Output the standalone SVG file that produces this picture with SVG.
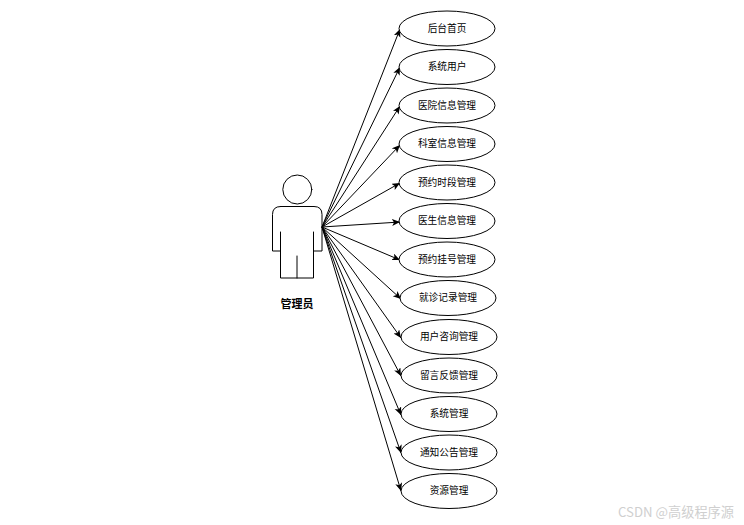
<svg xmlns="http://www.w3.org/2000/svg" width="744" height="525" viewBox="0 0 744 525">
<style>
text{font-family:"Noto Sans CJK SC","Liberation Sans",sans-serif;font-size:9.7px;fill:#000;text-anchor:middle;dominant-baseline:central}
.n ellipse{fill:#fff;stroke:#000;stroke-width:1}
.a{fill:none;stroke:#000;stroke-width:1;stroke-linecap:round;stroke-linejoin:round}
#connectors line{stroke:#000;stroke-width:1;marker-end:url(#h)}
</style>
<defs><marker id="h" markerUnits="userSpaceOnUse" markerWidth="10" markerHeight="10" refX="8" refY="3.5" orient="auto"><path d="M0 0L8 3.5L0 7L2 3.5Z" fill="#000"/></marker></defs>
<rect width="744" height="525" fill="#fff"/>
<g id="connectors">
<line x1="322" y1="227" x2="400" y2="29"/>
<line x1="322" y1="227" x2="400" y2="67"/>
<line x1="322" y1="227" x2="400" y2="106"/>
<line x1="322" y1="227" x2="400" y2="145"/>
<line x1="322" y1="227" x2="400" y2="183"/>
<line x1="322" y1="227" x2="400" y2="222"/>
<line x1="322" y1="227" x2="400" y2="260"/>
<line x1="322" y1="227" x2="401" y2="299"/>
<line x1="322" y1="227" x2="401" y2="338"/>
<line x1="322" y1="227" x2="401" y2="376"/>
<line x1="322" y1="227" x2="401" y2="415"/>
<line x1="322" y1="227" x2="401" y2="453"/>
<line x1="322" y1="227" x2="401" y2="491"/>
</g>
<g id="actor">
<circle class="a" cx="297.3" cy="189.500" r="14.500"/>
<path class="a" d="M280.500 206.500H314Q322 206.500 322 214.500V251H313.500V232M313.500 251V278H280.500V232M280.500 251H272.500V214.500Q272.500 206.500 280.500 206.500M297 256V278"/>
<text x="297" y="303" style="font-size:11px;font-weight:700">管理员</text>
</g>
<g id="n1" class="n"><ellipse cx="447" cy="28.500" rx="48" ry="17.500"/><text x="447" y="27.700">后台首页</text></g>
<g id="n2" class="n"><ellipse cx="447" cy="67" rx="48" ry="17.500"/><text x="447" y="66.200">系统用户</text></g>
<g id="n3" class="n"><ellipse cx="447" cy="105.500" rx="48" ry="17.500"/><text x="447" y="104.700">医院信息管理</text></g>
<g id="n4" class="n"><ellipse cx="447" cy="144" rx="48" ry="17.500"/><text x="447" y="143.200">科室信息管理</text></g>
<g id="n5" class="n"><ellipse cx="447" cy="182.500" rx="48" ry="17.500"/><text x="447" y="181.700">预约时段管理</text></g>
<g id="n6" class="n"><ellipse cx="447" cy="221" rx="48" ry="17.500"/><text x="447" y="220.200">医生信息管理</text></g>
<g id="n7" class="n"><ellipse cx="447" cy="259.500" rx="48" ry="17.500"/><text x="447" y="258.700">预约挂号管理</text></g>
<g id="n8" class="n"><ellipse cx="448" cy="298" rx="48" ry="17.500"/><text x="448" y="297.200">就诊记录管理</text></g>
<g id="n9" class="n"><ellipse cx="449" cy="337" rx="48" ry="17.500"/><text x="449" y="336.200">用户咨询管理</text></g>
<g id="n10" class="n"><ellipse cx="449" cy="375.500" rx="48" ry="17.500"/><text x="449" y="374.700">留言反馈管理</text></g>
<g id="n11" class="n"><ellipse cx="449" cy="414" rx="48" ry="17.500"/><text x="449" y="413.200">系统管理</text></g>
<g id="n12" class="n"><ellipse cx="449" cy="452.500" rx="48" ry="17.500"/><text x="449" y="451.700">通知公告管理</text></g>
<g id="n13" class="n"><ellipse cx="449" cy="491" rx="48" ry="17.500"/><text x="449" y="490.200">资源管理</text></g>
<text x="676" y="511.500" style="font-size:13.200px;fill:#cfcfcf">CSDN @高级程序源</text>
</svg>
